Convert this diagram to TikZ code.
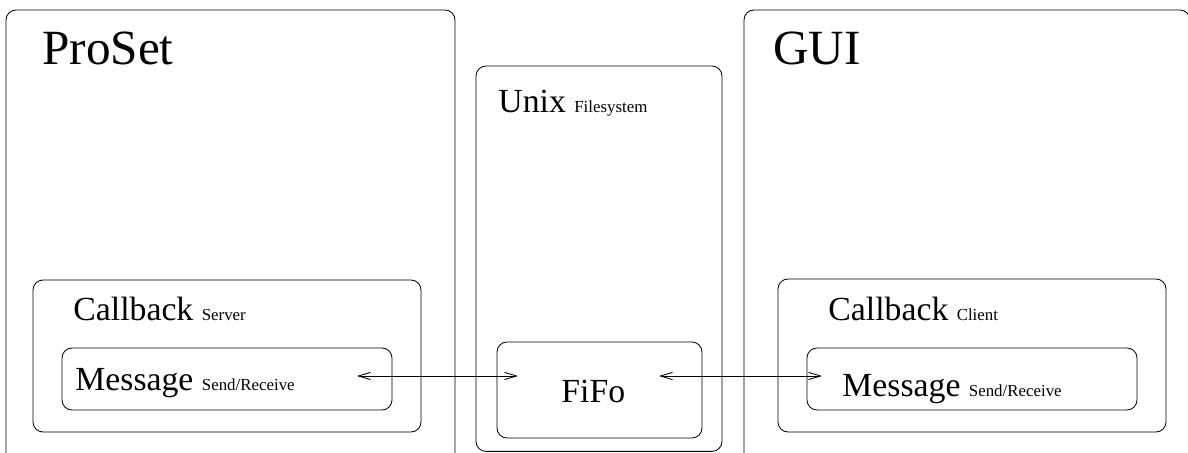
\documentclass[tikz,border=0pt]{standalone}
\usepackage{fontspec}
\setmainfont{Liberation Serif}
\usetikzlibrary{arrows.meta}
\newcommand\subtxt[1]{{\fontsize{12}{14}\selectfont #1}}

\begin{document}
\begin{tikzpicture}[line width=0.6pt,
  frame/.style={rounded corners=0.25cm},
  bigtext/.style={anchor=base west,inner sep=0,font=\fontsize{35}{40}\selectfont},
  midtext/.style={anchor=base west,inner sep=0,font=\fontsize{24}{28}\selectfont}]
  \clip (0,0) rectangle (29.7,11.325);
  % outer boxes
  \draw [frame] (0.15,-0.5) rectangle (11.375,11.075);
  \draw [frame] (11.9,0.04) rectangle (18.05,9.675);
  \draw [frame] (18.6,-0.5) rectangle (29.75,11.075);
  % inner boxes
  \draw [frame] (0.825,0.525) rectangle (10.525,4.325);
  \draw [frame] (1.55,1.075) rectangle (9.8,2.625);
  \draw [frame] (12.425,0.375) rectangle (17.55,2.775);
  \draw [frame] (19.45,0.525) rectangle (29.15,4.35);
  \draw [frame] (20.175,1.075) rectangle (28.425,2.625);
  % labels
  \node [bigtext] (proset) at (1.05,9.7) {ProSet};
  \node [bigtext] (gui) at (19.325,9.7) {GUI};
  \node [midtext] (unix) at (12.45,8.5) {Unix \subtxt{Filesystem}};
  \node [midtext] (cbserver) at (1.825,3.3) {Callback \subtxt{Server}};
  \node [midtext] (msgserver) at (1.875,1.55) {Message \subtxt{Send/Receive}};
  \node [midtext] (cbclient) at (20.7,3.3) {Callback \subtxt{Client}};
  \node [midtext] (msgclient) at (21.05,1.4) {Message \subtxt{Send/Receive}};
  \node [midtext] (fifo) at (14.025,1.25) {FiFo};
  % arrows
  \coordinate (msgserverE) at (8.925,1.925);
  \coordinate (fifoW) at (12.95,1.925);
  \coordinate (fifoE) at (16.475,1.925);
  \coordinate (msgclientW) at (20.55,1.925);
  \draw [<->,>={Straight Barb[length=3mm,width=1.8mm]}] (msgserverE)--(fifoW);
  \draw [<->,>={Straight Barb[length=3mm,width=1.8mm]}] (fifoE)--(msgclientW);
\end{tikzpicture}
\end{document}
